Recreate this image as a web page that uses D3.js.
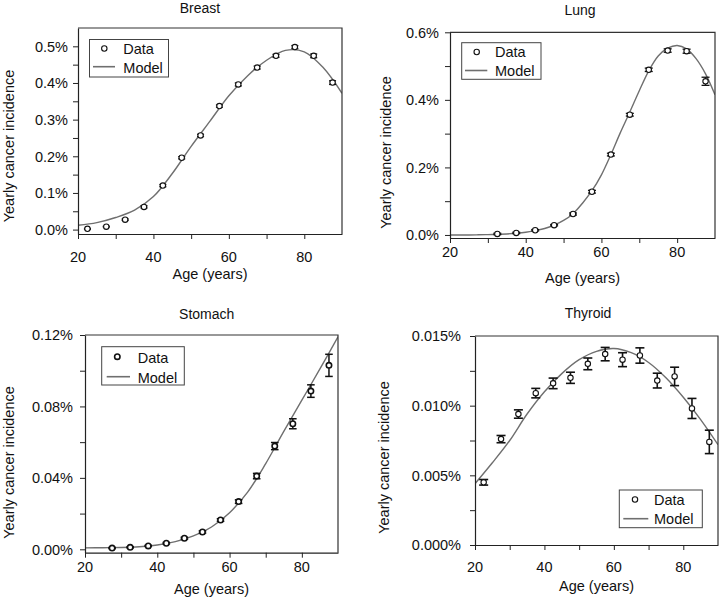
<!DOCTYPE html>
<html><head><meta charset="utf-8">
<script src="https://cdn.jsdelivr.net/npm/d3@7"></script>
<style>body{margin:0;background:#fff}svg{display:block;font-family:"Liberation Sans",Arial,sans-serif}</style>
</head><body><svg id="c" width="720" height="600"></svg>
<script>
// ---------- data (values in percent) ----------
const panelNames = ["Breast", "Lung", "Stomach", "Thyroid"];
const xTicks = [20, 40, 60, 80];
const xMinorTicks = [30, 50, 70];
const legendLabels = ["Data", "Model"];
const xTitle = "Age (years)";
const yTitle = "Yearly cancer incidence";

const breastAges = [22.5, 27.5, 32.5, 37.5, 42.5, 47.5, 52.5, 57.5, 62.5, 67.5, 72.5, 77.5, 82.5, 87.5];
const breastData = [0.002, 0.008, 0.027, 0.062, 0.120, 0.196, 0.257, 0.337, 0.396, 0.442, 0.474, 0.498, 0.474, 0.401];
const breastErr  = [0.001, 0.001, 0.002, 0.003, 0.003, 0.003, 0.003, 0.003, 0.004, 0.004, 0.004, 0.004, 0.005, 0.005];
const breastModelAges = [20, 25, 30, 35, 40, 45, 50, 55, 60, 65, 70, 75, 80, 85, 90];
const breastModel = [0.012, 0.019, 0.033, 0.053, 0.090, 0.153, 0.227, 0.296, 0.365, 0.420, 0.462, 0.489, 0.485, 0.442, 0.372];
const breastYTicks = [0, 0.1, 0.2, 0.3, 0.4, 0.5];
const breastYMinor = [0.05, 0.15, 0.25, 0.35, 0.45];

const lungAges = [32.5, 37.5, 42.5, 47.5, 52.5, 57.5, 62.5, 67.5, 72.5, 77.5, 82.5, 87.5];
const lungData = [0.003, 0.006, 0.014, 0.029, 0.062, 0.128, 0.238, 0.356, 0.489, 0.546, 0.544, 0.455];
const lungErr  = [0.002, 0.002, 0.002, 0.002, 0.003, 0.004, 0.004, 0.004, 0.005, 0.005, 0.006, 0.012];
const lungModelAges = [20, 22.5, 25, 27.5, 30, 32.5, 35, 37.5, 40, 42.5, 45, 47.5, 50, 52.5, 55, 57.5, 60, 62.5, 65, 67.5, 70, 72.5, 75, 77.5, 80, 82.5, 85, 87.5, 90];
const lungModel = [0, 0, 0, 0.0005, 0.001, 0.002, 0.003, 0.005, 0.008, 0.013, 0.019, 0.029, 0.043, 0.063, 0.094, 0.131, 0.178, 0.238, 0.303, 0.364, 0.427, 0.486, 0.530, 0.553, 0.561, 0.551, 0.522, 0.477, 0.415];
const lungYTicks = [0, 0.2, 0.4, 0.6];
const lungYMinor = [0.1, 0.3, 0.5];

const stomachAges = [27.5, 32.5, 37.5, 42.5, 47.5, 52.5, 57.5, 62.5, 67.5, 72.5, 77.5, 82.5, 87.5];
const stomachData = [0.0007, 0.0011, 0.0019, 0.0034, 0.0062, 0.0097, 0.0164, 0.0267, 0.0410, 0.0578, 0.0703, 0.0886, 0.1030];
const stomachErr  = [0.0003, 0.0003, 0.0003, 0.0004, 0.0005, 0.0006, 0.0007, 0.0010, 0.0015, 0.0020, 0.0028, 0.0035, 0.0062];
const stomachModelAges = [20, 25, 30, 35, 40, 45, 50, 55, 60, 65, 70, 75, 80, 85, 90];
const stomachModel = [0.0008, 0.0009, 0.0010, 0.0014, 0.0024, 0.0043, 0.0075, 0.0125, 0.0205, 0.0320, 0.0480, 0.0660, 0.0835, 0.1010, 0.1190];
const stomachYTicks = [0, 0.04, 0.08, 0.12];
const stomachYMinor = [0.02, 0.06, 0.10];

const thyroidAges = [22.5, 27.5, 32.5, 37.5, 42.5, 47.5, 52.5, 57.5, 62.5, 67.5, 72.5, 77.5, 82.5, 87.5];
const thyroidData = [0.0045, 0.0076, 0.0094, 0.0109, 0.0116, 0.0120, 0.0130, 0.0137, 0.0133, 0.0136, 0.0118, 0.0121, 0.0098, 0.0074];
const thyroidErr  = [0.0002, 0.00026, 0.0003, 0.00034, 0.00038, 0.0004, 0.00042, 0.00048, 0.0005, 0.00055, 0.00053, 0.00066, 0.00072, 0.00084];
const thyroidModelAges = [20, 25, 30, 35, 40, 45, 50, 55, 60, 65, 70, 75, 80, 85, 90];
const thyroidModel = [0.0044, 0.0059, 0.0075, 0.0094, 0.0110, 0.0123, 0.0133, 0.0139, 0.0141, 0.0138, 0.0131, 0.0120, 0.0106, 0.0090, 0.0072];
const thyroidYTicks = [0, 0.005, 0.010, 0.015];
const thyroidYMinor = [0.0025, 0.0075, 0.0125];

// ---------- layout (positions / styles only) ----------
const layouts = [
  {name: panelNames[0], ages: breastAges, data: breastData, err: breastErr, mAges: breastModelAges, model: breastModel,
   yTicks: breastYTicks, yMinor: breastYMinor, fmt: ".1%",
   x0: 78, x1: 342, yTop: 28, yBot: 234, yDom: [-0.012, 0.55],
   titlePos: [200, 12.5], xTitleY: 278.5, yTitlePos: [13.5, 146], xLabY: 261.5, yLabGap: 10, cap: 3.5, mstroke: 1.1, estroke: 1.3,
   legend: {x: 89.5, y: 39.5, w: 79, h: 37.5, mk: [104.3, 48.5], ln: [93, 115, 66.7], tx: 123.3, t1: 53.5, t2: 72.7}},
  {name: panelNames[1], ages: lungAges, data: lungData, err: lungErr, mAges: lungModelAges, model: lungModel,
   yTicks: lungYTicks, yMinor: lungYMinor, fmt: ".1%",
   x0: 450, x1: 715, yTop: 32.3, yBot: 238, yDom: [-0.009, 0.6],
   titlePos: [580, 15], xTitleY: 283, yTitlePos: [390.5, 152.5], xLabY: 256.5, yLabGap: 11, cap: 4, mstroke: 1.1, estroke: 1.3,
   legend: {x: 461.7, y: 42.7, w: 79.3, h: 36.6, mk: [476.7, 52], ln: [465, 487.3, 70.5], tx: 495, t1: 57.3, t2: 76}},
  {name: panelNames[2], ages: stomachAges, data: stomachData, err: stomachErr, mAges: stomachModelAges, model: stomachModel,
   yTicks: stomachYTicks, yMinor: stomachYMinor, fmt: ".2%",
   x0: 85, x1: 338, yTop: 335, yBot: 552.7, yDom: [-0.0019, 0.12],
   titlePos: [206.7, 318.5], xTitleY: 594, yTitlePos: [13.5, 462.5], xLabY: 571.5, yLabGap: 12, cap: 3.8, mstroke: 1.6, estroke: 1.5,
   legend: {x: 101.7, y: 346.7, w: 82.6, h: 38.3, mk: [117.3, 356.7], ln: [106.7, 130, 376.7], tx: 137.7, t1: 362.5, t2: 382.5}},
  {name: panelNames[3], ages: thyroidAges, data: thyroidData, err: thyroidErr, mAges: thyroidModelAges, model: thyroidModel,
   yTicks: thyroidYTicks, yMinor: thyroidYMinor, fmt: ".3%",
   x0: 475, x1: 718, yTop: 336, yBot: 545, yDom: [0, 0.015],
   titlePos: [588, 318], xTitleY: 590.5, yTitlePos: [389, 457.5], xLabY: 571.5, yLabGap: 14, cap: 4.5, mstroke: 1.1, estroke: 1.6,
   legend: {x: 619.3, y: 490, w: 83, h: 37.7, mk: [635, 499.5], ln: [623.3, 648.3, 518.7], tx: 654, t1: 505, t2: 524}}
];

const svg = d3.select("#c");
const ink = "#111";
const modelColor = "#6f6f6f";

layouts.forEach((L, i) => {
  const g = svg.append("g");
  const x = d3.scaleLinear().domain([20, 90]).range([L.x0, L.x1]);
  const y = d3.scaleLinear().domain(L.yDom).range([L.yBot, L.yTop]);
  const fmt = d3.format(L.fmt);

  const cid = "clip" + i;
  g.append("clipPath").attr("id", cid).append("rect")
    .attr("x", L.x0).attr("y", L.yTop).attr("width", L.x1 - L.x0).attr("height", L.yBot - L.yTop);

  // model curve
  const line = d3.line().x((d, k) => x(L.mAges[k])).y(d => y(d)).curve(d3.curveCatmullRom.alpha(0.5));
  g.append("path").attr("d", line(L.model)).attr("fill", "none")
    .attr("stroke", modelColor).attr("stroke-width", 1.4).attr("clip-path", `url(#${cid})`);

  // error bars
  const eb = g.append("g").attr("stroke", ink).attr("stroke-width", L.estroke).attr("fill", "none");
  L.data.forEach((v, k) => {
    const cx = x(L.ages[k]);
    const lo = y(v - L.err[k]), hi = y(v + L.err[k]);
    eb.append("line").attr("x1", cx).attr("x2", cx).attr("y1", lo).attr("y2", hi);
    eb.append("line").attr("x1", cx - L.cap).attr("x2", cx + L.cap).attr("y1", lo).attr("y2", lo);
    eb.append("line").attr("x1", cx - L.cap).attr("x2", cx + L.cap).attr("y1", hi).attr("y2", hi);
  });

  // data points
  g.append("g").selectAll("circle").data(L.data).join("circle")
    .attr("cx", (d, k) => x(L.ages[k])).attr("cy", d => y(d)).attr("r", 2.7)
    .attr("fill", "#fff").attr("stroke", ink).attr("stroke-width", L.mstroke);

  // frame (top + right)
  g.append("path").attr("d", `M${L.x0},${L.yTop}H${L.x1}V${L.yBot}`)
    .attr("fill", "none").attr("stroke", "#333").attr("stroke-width", 1.2);

  // x axis
  const xa = g.append("g").attr("transform", `translate(0,${L.yBot})`)
    .call(d3.axisBottom(x).tickValues(xTicks.concat(xMinorTicks)).tickSize(5).tickSizeOuter(0).tickFormat(""));
  xa.select(".domain").attr("stroke", "#222").attr("stroke-width", 1.2);
  xa.selectAll(".tick line").attr("stroke", "#222");
  g.append("g").selectAll("text").data(xTicks).join("text")
    .attr("x", d => x(d)).attr("y", L.xLabY).attr("text-anchor", "middle")
    .attr("font-size", 14.5).attr("fill", ink).text(d => d);

  // y axis
  const ya = g.append("g").attr("transform", `translate(${L.x0},0)`)
    .call(d3.axisLeft(y).tickValues(L.yTicks.concat(L.yMinor)).tickSize(5).tickSizeOuter(0).tickFormat(""));
  ya.select(".domain").attr("stroke", "#222").attr("stroke-width", 1.2);
  ya.selectAll(".tick line").attr("stroke", "#222");
  g.append("g").selectAll("text").data(L.yTicks).join("text")
    .attr("x", L.x0 - L.yLabGap).attr("y", d => y(d)).attr("dy", "0.36em").attr("text-anchor", "end")
    .attr("font-size", 14.5).attr("fill", ink).text(d => fmt(d / 100));

  // titles
  g.append("text").attr("x", L.titlePos[0]).attr("y", L.titlePos[1]).attr("text-anchor", "middle")
    .attr("font-size", 14).attr("fill", ink).text(L.name);
  g.append("text").attr("x", (L.x0 + L.x1) / 2).attr("y", L.xTitleY).attr("text-anchor", "middle")
    .attr("font-size", 14.5).attr("fill", ink).text(xTitle);
  g.append("text").attr("transform", `translate(${L.yTitlePos[0]},${L.yTitlePos[1]}) rotate(-90)`)
    .attr("text-anchor", "middle").attr("font-size", 14.5).attr("fill", ink).text(yTitle);

  // legend
  const lg = L.legend;
  const leg = g.append("g");
  leg.append("rect").attr("x", lg.x).attr("y", lg.y).attr("width", lg.w).attr("height", lg.h)
    .attr("fill", "#fff").attr("stroke", "#444").attr("stroke-width", 1);
  leg.append("circle").attr("cx", lg.mk[0]).attr("cy", lg.mk[1]).attr("r", 2.7)
    .attr("fill", "#fff").attr("stroke", ink).attr("stroke-width", L.mstroke);
  leg.append("line").attr("x1", lg.ln[0]).attr("x2", lg.ln[1]).attr("y1", lg.ln[2]).attr("y2", lg.ln[2])
    .attr("stroke", modelColor).attr("stroke-width", 1.6);
  leg.append("text").attr("x", lg.tx).attr("y", lg.t1).attr("font-size", 14.5).attr("fill", ink).text(legendLabels[0]);
  leg.append("text").attr("x", lg.tx).attr("y", lg.t2).attr("font-size", 14.5).attr("fill", ink).text(legendLabels[1]);
});
</script>
</body></html>
